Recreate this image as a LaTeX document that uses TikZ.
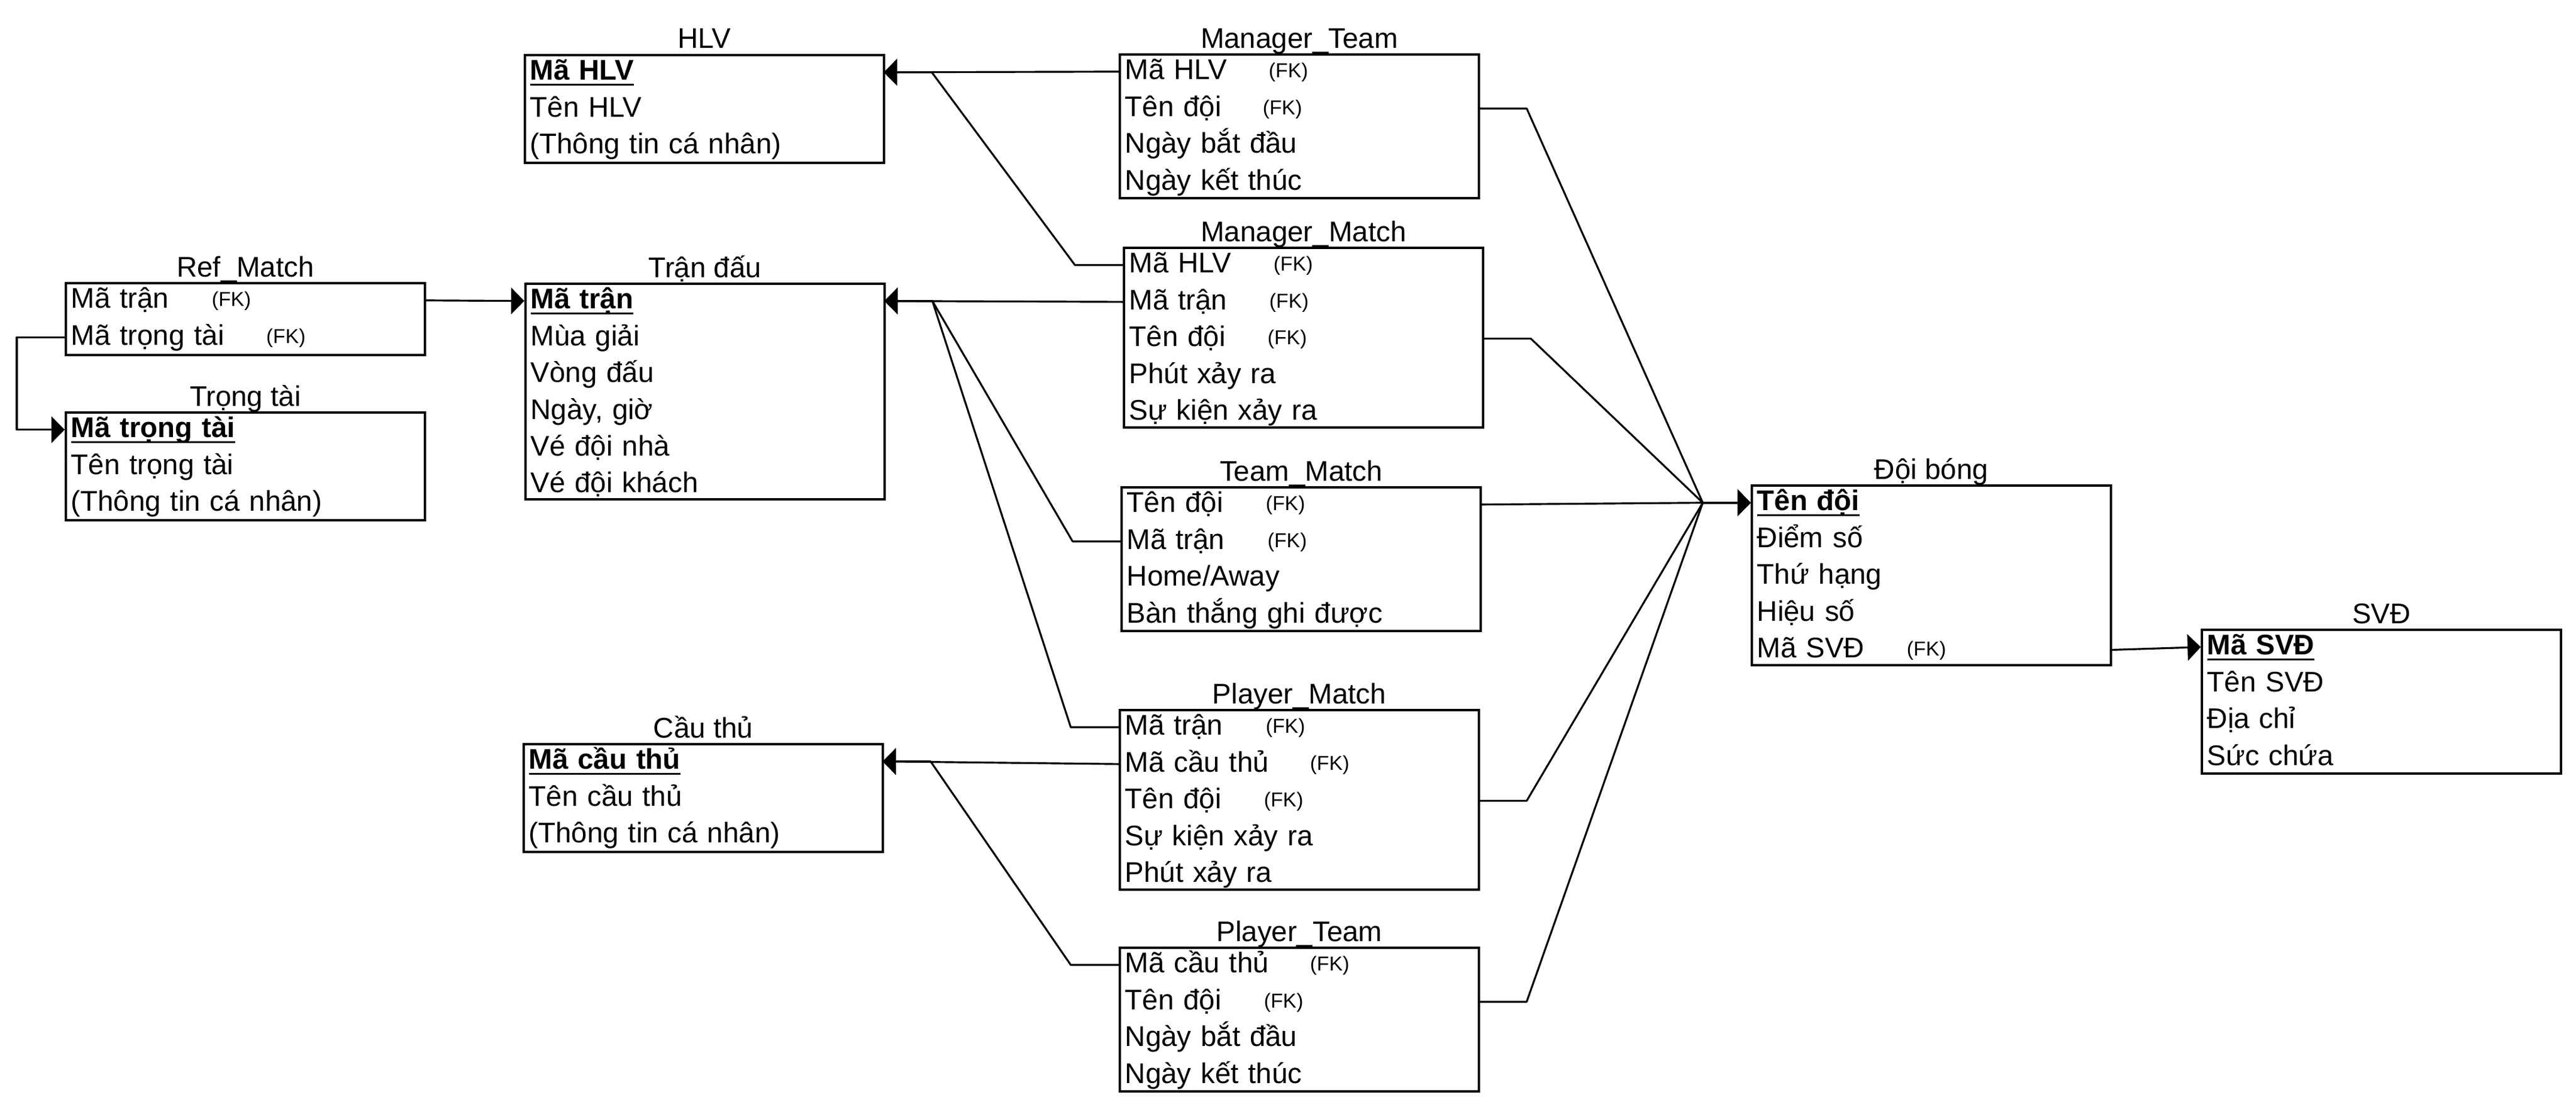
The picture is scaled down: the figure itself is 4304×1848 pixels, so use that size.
\documentclass[tikz,border=0pt]{standalone}
\usepackage{fontspec}
\setmainfont{Liberation Sans}
\usetikzlibrary{positioning,arrows.meta}

\newcommand{\pkey}[1]{\setbox0\hbox{\bfseries #1}\rlap{\rule[-0.2em]{\wd0}{0.07em}}\box0}

\tikzset{
  tbl/.style={draw, line width=1pt, anchor=north west, minimum width=6cm, inner sep=0pt},
  row/.style={inner xsep=0.1cm, inner ysep=0pt, text width=5.8cm, align=left, minimum height=0.6cm, text height=0.38cm, text depth=0.12cm, font=\fontsize{13.5}{16}\selectfont},
  ttl/.style={anchor=base, inner sep=0pt, font=\fontsize{13.5}{16}\selectfont},
  fk/.style={anchor=base west, inner sep=0pt, font=\fontsize{9.6}{11}\selectfont},
  link/.style={line width=0.9pt, line join=round, -{Triangle[length=0.22cm,width=0.44cm]}}
}

\begin{document}
\begin{tikzpicture}[x=0.01cm, y=-0.01cm]
\useasboundingbox (0,0) rectangle (4304,1848);

% HLV
\node[tbl, minimum height=1.8cm] (hlv) at (875,90) {};
\node[ttl] at ([yshift=0.09cm]hlv.north) {HLV};
\node[row, anchor=north west] (hlv-1) at (hlv.north west) {\pkey{Mã HLV}};
\node[row, below=0pt of hlv-1] (hlv-2) {Tên HLV};
\node[row, below=0pt of hlv-2] (hlv-3) {(Thông tin cá nhân)};

% Manager_Team
\node[tbl, minimum height=2.4cm] (mteam) at (1869,89) {};
\node[ttl] at ([yshift=0.09cm]mteam.north) {Manager\_Team};
\node[row, anchor=north west] (mteam-1) at (mteam.north west) {Mã HLV};
\node[row, below=0pt of mteam-1] (mteam-2) {Tên đội};
\node[row, below=0pt of mteam-2] (mteam-3) {Ngày bắt đầu};
\node[row, below=0pt of mteam-3] (mteam-4) {Ngày kết thúc};
\node[fk] at ([xshift=2.5cm,yshift=-0.1cm]mteam-1.west) {(FK)};
\node[fk] at ([xshift=2.4cm,yshift=-0.1cm]mteam-2.west) {(FK)};

% Manager_Match
\node[tbl, minimum height=3cm] (mmatch) at (1876,412) {};
\node[ttl] at ([yshift=0.09cm]mmatch.north) {Manager\_Match};
\node[row, anchor=north west] (mmatch-1) at (mmatch.north west) {Mã HLV};
\node[row, below=0pt of mmatch-1] (mmatch-2) {Mã trận};
\node[row, below=0pt of mmatch-2] (mmatch-3) {Tên đội};
\node[row, below=0pt of mmatch-3] (mmatch-4) {Phút xảy ra};
\node[row, below=0pt of mmatch-4] (mmatch-5) {Sự kiện xảy ra};
\node[fk] at ([xshift=2.51cm,yshift=-0.1cm]mmatch-1.west) {(FK)};
\node[fk] at ([xshift=2.44cm,yshift=-0.1cm]mmatch-2.west) {(FK)};
\node[fk] at ([xshift=2.41cm,yshift=-0.1cm]mmatch-3.west) {(FK)};

% Ref_Match
\node[tbl, minimum height=1.2cm] (ref) at (108,471) {};
\node[ttl] at ([yshift=0.09cm]ref.north) {Ref\_Match};
\node[row, anchor=north west] (ref-1) at (ref.north west) {Mã trận};
\node[row, below=0pt of ref-1] (ref-2) {Mã trọng tài};
\node[fk] at ([xshift=2.45cm,yshift=-0.1cm]ref-1.west) {(FK)};
\node[fk] at ([xshift=3.36cm,yshift=-0.1cm]ref-2.west) {(FK)};

% Tran dau
\node[tbl, minimum height=3.6cm] (td) at (876,472) {};
\node[ttl] at ([yshift=0.09cm]td.north) {Trận đấu};
\node[row, anchor=north west] (td-1) at (td.north west) {\pkey{Mã trận}};
\node[row, below=0pt of td-1] (td-2) {Mùa giải};
\node[row, below=0pt of td-2] (td-3) {Vòng đấu};
\node[row, below=0pt of td-3] (td-4) {Ngày, giờ};
\node[row, below=0pt of td-4] (td-5) {Vé đội nhà};
\node[row, below=0pt of td-5] (td-6) {Vé đội khách};

% Trong tai
\node[tbl, minimum height=1.8cm] (tt) at (108,687) {};
\node[ttl] at ([yshift=0.09cm]tt.north) {Trọng tài};
\node[row, anchor=north west] (tt-1) at (tt.north west) {\pkey{Mã trọng tài}};
\node[row, below=0pt of tt-1] (tt-2) {Tên trọng tài};
\node[row, below=0pt of tt-2] (tt-3) {(Thông tin cá nhân)};

% Team_Match
\node[tbl, minimum height=2.4cm] (tmatch) at (1872,812) {};
\node[ttl] at ([yshift=0.09cm]tmatch.north) {Team\_Match};
\node[row, anchor=north west] (tmatch-1) at (tmatch.north west) {Tên đội};
\node[row, below=0pt of tmatch-1] (tmatch-2) {Mã trận};
\node[row, below=0pt of tmatch-2] (tmatch-3) {Home/Away};
\node[row, below=0pt of tmatch-3] (tmatch-4) {Bàn thắng ghi được};
\node[fk] at ([xshift=2.42cm,yshift=-0.1cm]tmatch-1.west) {(FK)};
\node[fk] at ([xshift=2.45cm,yshift=-0.1cm]tmatch-2.west) {(FK)};

% Doi bong
\node[tbl, minimum height=3cm] (doi) at (2925,809) {};
\node[ttl] at ([yshift=0.09cm]doi.north) {Đội bóng};
\node[row, anchor=north west] (doi-1) at (doi.north west) {\pkey{Tên đội}};
\node[row, below=0pt of doi-1] (doi-2) {Điểm số};
\node[row, below=0pt of doi-2] (doi-3) {Thứ hạng};
\node[row, below=0pt of doi-3] (doi-4) {Hiệu số};
\node[row, below=0pt of doi-4] (doi-5) {Mã SVĐ};
\node[fk] at ([xshift=2.6cm,yshift=-0.1cm]doi-5.west) {(FK)};

% SVD
\node[tbl, minimum height=2.4cm] (svd) at (3677,1050) {};
\node[ttl] at ([yshift=0.09cm]svd.north) {SVĐ};
\node[row, anchor=north west] (svd-1) at (svd.north west) {\pkey{Mã SVĐ}};
\node[row, below=0pt of svd-1] (svd-2) {Tên SVĐ};
\node[row, below=0pt of svd-2] (svd-3) {Địa chỉ};
\node[row, below=0pt of svd-3] (svd-4) {Sức chứa};

% Cau thu
\node[tbl, minimum height=1.8cm] (ct) at (873,1241) {};
\node[ttl] at ([yshift=0.09cm]ct.north) {Cầu thủ};
\node[row, anchor=north west] (ct-1) at (ct.north west) {\pkey{Mã cầu thủ}};
\node[row, below=0pt of ct-1] (ct-2) {Tên cầu thủ};
\node[row, below=0pt of ct-2] (ct-3) {(Thông tin cá nhân)};

% Player_Match
\node[tbl, minimum height=3cm] (pmatch) at (1869,1184) {};
\node[ttl] at ([yshift=0.09cm]pmatch.north) {Player\_Match};
\node[row, anchor=north west] (pmatch-1) at (pmatch.north west) {Mã trận};
\node[row, below=0pt of pmatch-1] (pmatch-2) {Mã cầu thủ};
\node[row, below=0pt of pmatch-2] (pmatch-3) {Tên đội};
\node[row, below=0pt of pmatch-3] (pmatch-4) {Sự kiện xảy ra};
\node[row, below=0pt of pmatch-4] (pmatch-5) {Phút xảy ra};
\node[fk] at ([xshift=2.45cm,yshift=-0.1cm]pmatch-1.west) {(FK)};
\node[fk] at ([xshift=3.19cm,yshift=-0.1cm]pmatch-2.west) {(FK)};
\node[fk] at ([xshift=2.42cm,yshift=-0.1cm]pmatch-3.west) {(FK)};

% Player_Team
\node[tbl, minimum height=2.4cm] (pteam) at (1869,1581) {};
\node[ttl] at ([yshift=0.09cm]pteam.north) {Player\_Team};
\node[row, anchor=north west] (pteam-1) at (pteam.north west) {Mã cầu thủ};
\node[row, below=0pt of pteam-1] (pteam-2) {Tên đội};
\node[row, below=0pt of pteam-2] (pteam-3) {Ngày bắt đầu};
\node[row, below=0pt of pteam-3] (pteam-4) {Ngày kết thúc};
\node[fk] at ([xshift=3.19cm,yshift=-0.1cm]pteam-1.west) {(FK)};
\node[fk] at ([xshift=2.42cm,yshift=-0.1cm]pteam-2.west) {(FK)};

% links to HLV
\draw[link] (mteam-1.west) -- (hlv-1.east);
\draw[link] (mmatch-1.west) -- ++(-80,0) -- ([xshift=0.8cm]hlv-1.east) -- (hlv-1.east);
% links to Tran dau
\draw[link] (ref-1.east) -- (td-1.west);
\draw[link] (mmatch-2.west) -- (td-1.east);
\draw[link] (tmatch-2.west) -- ++(-80,0) -- ([xshift=0.8cm]td-1.east) -- (td-1.east);
\draw[link] (pmatch-1.west) -- ++(-80,0) -- ([xshift=0.8cm]td-1.east) -- (td-1.east);
% links to Trong tai, Cau thu
\draw[link] (ref-2.west) -- ++(-80,0) |- (tt-1.west);
\draw[link] (pmatch-2.west) -- (ct-1.east);
\draw[link] (pteam-1.west) -- ++(-80,0) -- ([xshift=0.8cm]ct-1.east) -- (ct-1.east);
% links to Doi bong
\draw[link] (mteam-2.east) -- ++(80,0) -- ([xshift=-0.8cm]doi-1.west) -- (doi-1.west);
\draw[link] (mmatch-3.east) -- ++(80,0) -- ([xshift=-0.8cm]doi-1.west) -- (doi-1.west);
\draw[link] (tmatch-1.east) -- ([xshift=-0.8cm]doi-1.west) -- (doi-1.west);
\draw[link] (pmatch-3.east) -- ++(80,0) -- ([xshift=-0.8cm]doi-1.west) -- (doi-1.west);
\draw[link] (pteam-2.east) -- ++(80,0) -- ([xshift=-0.8cm]doi-1.west) -- (doi-1.west);
% link to SVD
\draw[link] (doi-5.east) -- (svd-1.west);
\end{tikzpicture}
\end{document}
